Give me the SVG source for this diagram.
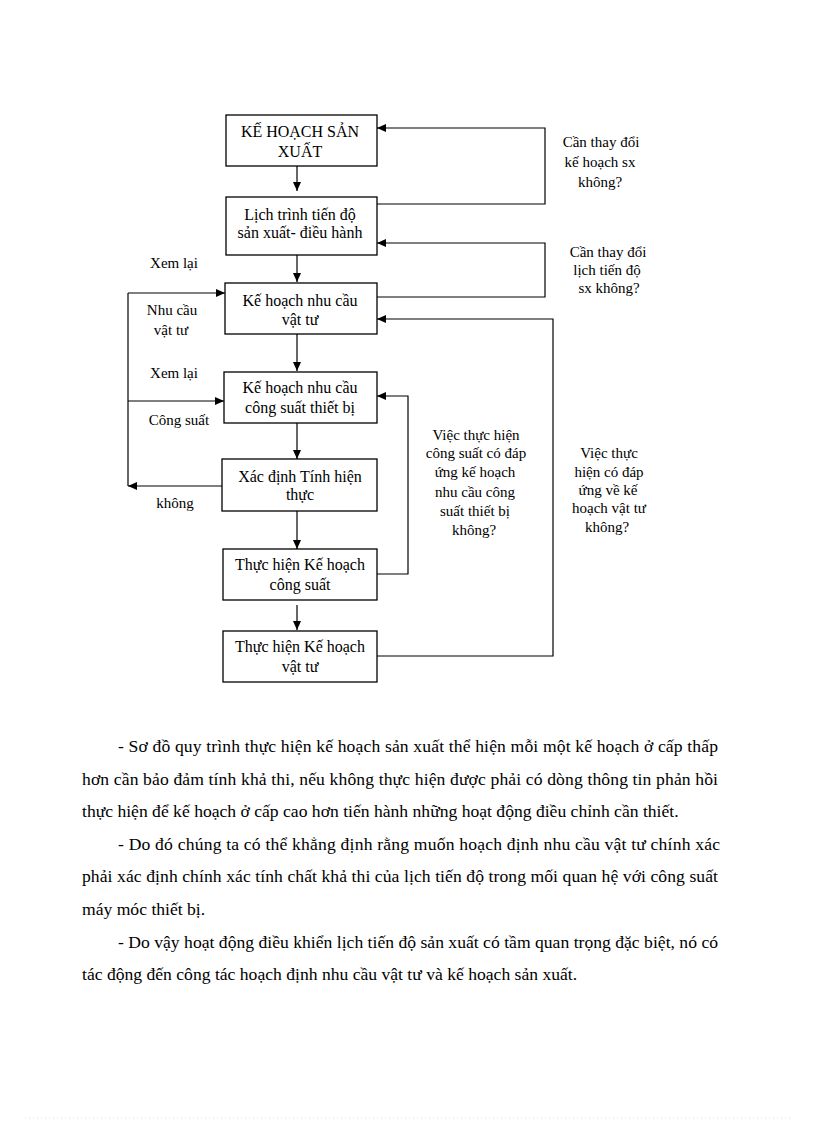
<svg xmlns="http://www.w3.org/2000/svg" width="816" height="1123" viewBox="0 0 816 1123">
<defs>
<marker id="ah" markerUnits="userSpaceOnUse" markerWidth="10" markerHeight="9" refX="9" refY="4" orient="auto">
<path d="M0,0 L9,4 L0,8 z" fill="#000"/>
</marker>
<style>
.box{fill:#fff;stroke:#000;stroke-width:1.3}
.bt{font-family:"Liberation Serif","Times New Roman",serif;font-size:16px;text-anchor:middle;fill:#000}
.lb{font-family:"Liberation Serif","Times New Roman",serif;font-size:15px;text-anchor:middle;fill:#000}
.ln{fill:none;stroke:#000;stroke-width:1.2}
.ar{fill:none;stroke:#000;stroke-width:1.2;marker-end:url(#ah)}
.p{font-family:"Liberation Serif","Times New Roman",serif;font-size:17.6px;fill:#000}
</style>
</defs>
<rect width="816" height="1123" fill="#fff"/>
<g id="connectors">
<path class="ar" d="M297,166 V191"/>
<path class="ar" d="M297,255 V282"/>
<path class="ar" d="M297,334 V371"/>
<path class="ar" d="M297,423 V459"/>
<path class="ar" d="M297,511 V549"/>
<path class="ar" d="M297,605 V630"/>
<path class="ar" d="M377,204 H545 V128 H377"/>
<path class="ar" d="M377,297 H545 V243 H377"/>
<path class="ar" d="M377,656 H553 V319 H377"/>
<path class="ar" d="M377,574 H408 V396 H377"/>
<path class="ar" d="M222,486 H128"/>
<path class="ln" d="M128,486 V293"/>
<path class="ar" d="M128,293 H225"/>
<path class="ar" d="M128,401 H224"/>
</g>
<g id="n1"><rect class="box" x="226" y="115" width="151" height="51"/>
<text class="bt" x="300" y="137">KẾ HOẠCH SẢN</text><text class="bt" x="300" y="157">XUẤT</text></g>
<g id="n2"><rect class="box" x="226" y="197" width="151" height="58"/>
<text class="bt" x="300" y="220">Lịch trình tiến độ</text><text class="bt" x="300" y="238">sản xuất- điều hành</text></g>
<g id="n3"><rect class="box" x="225" y="283" width="152" height="51"/>
<text class="bt" x="300" y="306">Kế hoạch nhu cầu</text><text class="bt" x="300" y="325">vật tư</text></g>
<g id="n4"><rect class="box" x="224" y="372" width="153" height="51"/>
<text class="bt" x="300" y="393">Kế hoạch nhu cầu</text><text class="bt" x="300" y="413">công suất thiết bị</text></g>
<g id="n5"><rect class="box" x="222" y="459" width="155" height="52"/>
<text class="bt" x="300" y="482">Xác định Tính hiện</text><text class="bt" x="300" y="500">thực</text></g>
<g id="n6"><rect class="box" x="223" y="549" width="154" height="51"/>
<text class="bt" x="300" y="570">Thực hiện Kế hoạch</text><text class="bt" x="300" y="590">công suất</text></g>
<g id="n7"><rect class="box" x="223" y="631" width="154" height="51"/>
<text class="bt" x="300" y="652">Thực hiện Kế hoạch</text><text class="bt" x="300" y="672">vật tư</text></g>
<g id="labels">
<text class="lb" x="174" y="268">Xem lại</text>
<text class="lb" x="172" y="315">Nhu cầu</text>
<text class="lb" x="171" y="335">vật tư</text>
<text class="lb" x="174" y="378">Xem lại</text>
<text class="lb" x="179" y="425">Công suất</text>
<text class="lb" x="175" y="508">không</text>
<text class="lb" x="601" y="147">Cần thay đổi</text>
<text class="lb" x="600" y="167">kế hoạch sx</text>
<text class="lb" x="600" y="187">không?</text>
<text class="lb" x="608" y="257">Cần thay đổi</text>
<text class="lb" x="607" y="275">lịch tiến độ</text>
<text class="lb" x="609" y="293">sx không?</text>
<text class="lb" x="476" y="440">Việc thực hiện</text>
<text class="lb" x="476" y="458">công suất có đáp</text>
<text class="lb" x="475" y="477">ứng kế hoạch</text>
<text class="lb" x="475" y="497">nhu cầu công</text>
<text class="lb" x="475" y="516">suất thiết bị</text>
<text class="lb" x="474" y="535">không?</text>
<text class="lb" x="609" y="458">Việc thực</text>
<text class="lb" x="609" y="477">hiện có đáp</text>
<text class="lb" x="608" y="495">ứng về kế</text>
<text class="lb" x="609" y="513">hoạch vật tư</text>
<text class="lb" x="607" y="532">không?</text>
</g>
<g id="paragraph">
<text class="p" x="118" y="752" textLength="600" lengthAdjust="spacing">- Sơ đồ quy trình thực hiện kế hoạch sản xuất thể hiện mỗi một kế hoạch ở cấp thấp</text>
<text class="p" x="82" y="785" textLength="636" lengthAdjust="spacing">hơn cần bảo đảm tính khả thi, nếu không thực hiện được phải có dòng thông tin phản hồi</text>
<text class="p" x="82" y="817">thực hiện để kế hoạch ở cấp cao hơn tiến hành những hoạt động điều chỉnh cần thiết.</text>
<text class="p" x="118" y="850" textLength="602" lengthAdjust="spacing">- Do đó chúng ta có thể khẳng định rằng muốn hoạch định nhu cầu vật tư chính xác</text>
<text class="p" x="82" y="882" textLength="636" lengthAdjust="spacing">phải xác định chính xác tính chất khả thi của lịch tiến độ trong mối quan hệ với công suất</text>
<text class="p" x="82" y="915">máy móc thiết bị.</text>
<text class="p" x="118" y="948" textLength="600" lengthAdjust="spacing">- Do vậy hoạt động điều khiển lịch tiến độ sản xuất có tầm quan trọng đặc biệt, nó có</text>
<text class="p" x="82" y="980">tác động đến công tác hoạch định nhu cầu vật tư và kế hoạch sản xuất.</text>
</g>
<line x1="25" y1="1118" x2="790" y2="1118" stroke="#ddd" stroke-width="1" stroke-dasharray="1,3"/>
</svg>
